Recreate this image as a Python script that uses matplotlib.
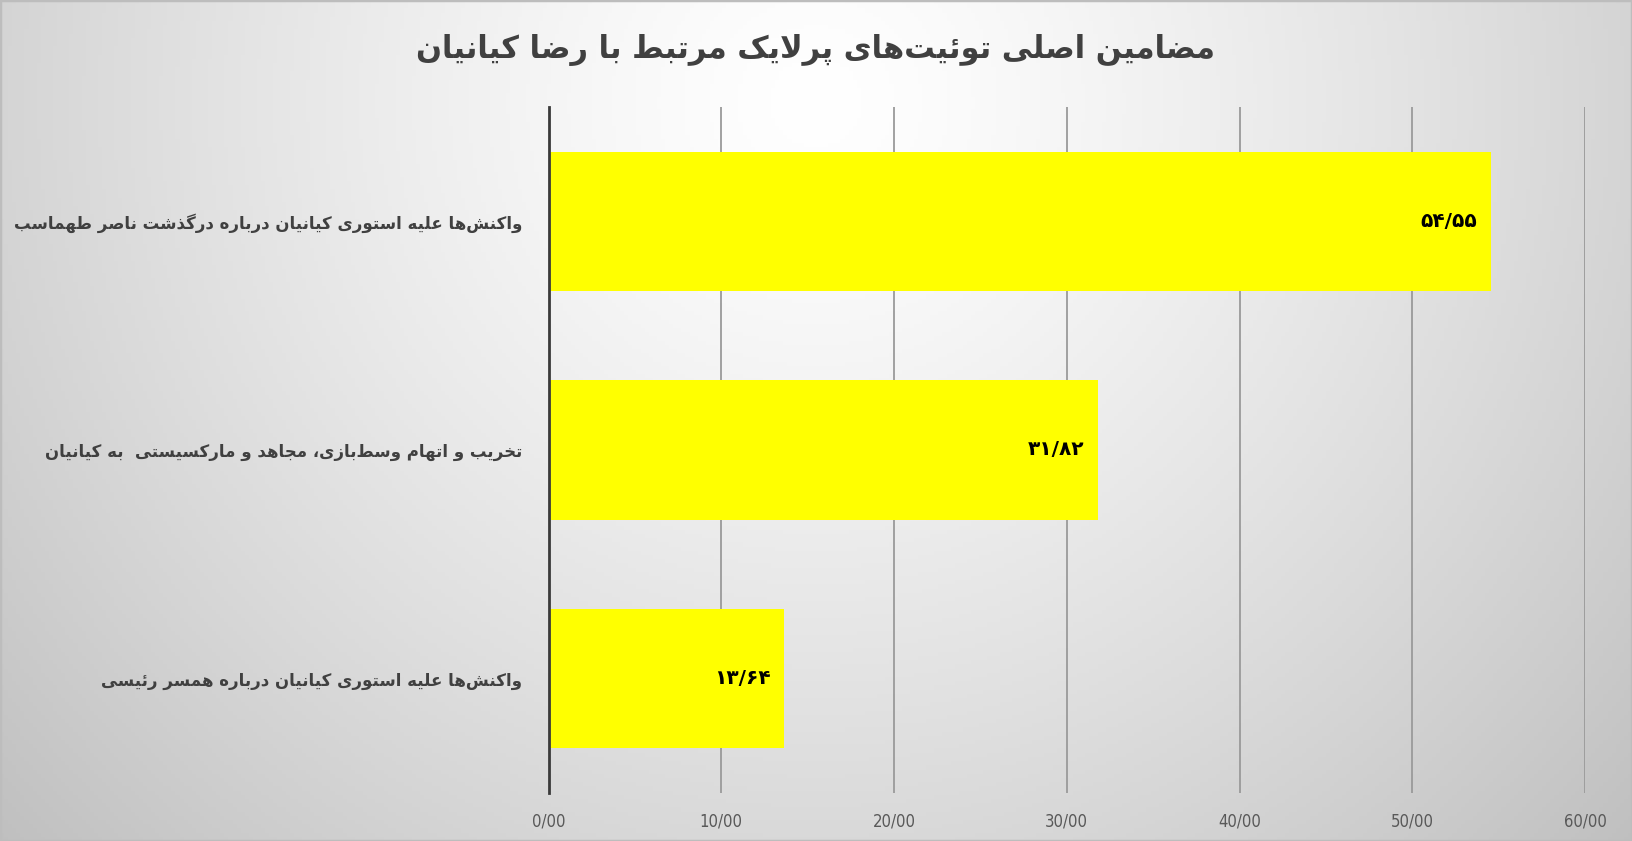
import numpy as np
import matplotlib
matplotlib.use("Agg")
import matplotlib.pyplot as plt

# data
title = "مضامین اصلی توئیت‌های پرلایک مرتبط با رضا کیانیان"
categories = [
    "واکنش‌ها علیه استوری کیانیان درباره درگذشت ناصر طهماسب",
    "تخریب و اتهام وسط‌بازی، مجاهد و مارکسیستی  به کیانیان",
    "واکنش‌ها علیه استوری کیانیان درباره همسر رئیسی",
]
values = [54.55, 31.82, 13.64]
xticks = [0, 10, 20, 30, 40, 50, 60]

# small arabic/persian shaper (iso, fin, ini, med); right-joining letters have no ini/med
FORMS = {
    "ا": ("\uFE8D", "\uFE8E", None, None),
    "ب": ("\uFE8F", "\uFE90", "\uFE91", "\uFE92"),
    "پ": ("\uFB56", "\uFB57", "\uFB58", "\uFB59"),
    "ت": ("\uFE95", "\uFE96", "\uFE97", "\uFE98"),
    "ج": ("\uFE9D", "\uFE9E", "\uFE9F", "\uFEA0"),
    "خ": ("\uFEA5", "\uFEA6", "\uFEA7", "\uFEA8"),
    "د": ("\uFEA9", "\uFEAA", None, None),
    "ذ": ("\uFEAB", "\uFEAC", None, None),
    "ر": ("\uFEAD", "\uFEAE", None, None),
    "ز": ("\uFEAF", "\uFEB0", None, None),
    "س": ("\uFEB1", "\uFEB2", "\uFEB3", "\uFEB4"),
    "ش": ("\uFEB5", "\uFEB6", "\uFEB7", "\uFEB8"),
    "ص": ("\uFEB9", "\uFEBA", "\uFEBB", "\uFEBC"),
    "ض": ("\uFEBD", "\uFEBE", "\uFEBF", "\uFEC0"),
    "ط": ("\uFEC1", "\uFEC2", "\uFEC3", "\uFEC4"),
    "ع": ("\uFEC9", "\uFECA", "\uFECB", "\uFECC"),
    "ک": ("\uFB8E", "\uFB8F", "\uFB90", "\uFB91"),
    "گ": ("\uFB92", "\uFB93", "\uFB94", "\uFB95"),
    "ل": ("\uFEDD", "\uFEDE", "\uFEDF", "\uFEE0"),
    "م": ("\uFEE1", "\uFEE2", "\uFEE3", "\uFEE4"),
    "ن": ("\uFEE5", "\uFEE6", "\uFEE7", "\uFEE8"),
    "ه": ("\uFEE9", "\uFEEA", "\uFEEB", "\uFEEC"),
    "و": ("\uFEED", "\uFEEE", None, None),
    "ی": ("\uFBFC", "\uFBFD", "\uFBFE", "\uFBFF"),
    "ئ": ("\uFE89", "\uFE8A", "\uFE8B", "\uFE8C"),
}


def dual(c):
    return c in FORMS and FORMS[c][2] is not None


def shape(text):
    out = []
    i = 0
    n = len(text)
    while i < n:
        c = text[i]
        prev_join = i > 0 and dual(text[i - 1])
        if c == "ل" and i + 1 < n and text[i + 1] == "ا":
            out.append("\uFEFC" if prev_join else "\uFEFB")
            i += 2
            continue
        if c in FORMS:
            iso, fin, ini, med = FORMS[c]
            next_join = dual(c) and i + 1 < n and text[i + 1] in FORMS
            if prev_join and next_join:
                out.append(med)
            elif prev_join:
                out.append(fin)
            elif next_join:
                out.append(ini)
            else:
                out.append(iso)
        elif c != "\u200c":
            out.append(c)
        i += 1
    return "".join(reversed(out))


def fa_num(v):
    s = f"{v:.2f}".replace(".", "/")
    return s.translate(str.maketrans("0123456789", "۰۱۲۳۴۵۶۷۸۹"))


fig = plt.figure(figsize=(16.32, 8.41), dpi=100)

# radial grey background
bg = fig.add_axes([0, 0, 1, 1], zorder=-10)
gx, gy = np.meshgrid(np.linspace(0, 1, 400), np.linspace(0, 1, 200))
r = np.sqrt(((gx - 0.5) / 0.55) ** 2 + ((gy - 0.12) / 1.05) ** 2)
g = np.clip(255 - 48 * r ** 1.3, 0, 255) / 255
bg.imshow(np.dstack([g, g, g]), aspect="auto", extent=[0, 1, 1, 0])
bg.set_xlim(0, 1)
bg.set_ylim(1, 0)
bg.axis("off")
fig.patches.append(plt.Rectangle((0, 0), 1, 1, transform=fig.transFigure,
                                 fill=False, edgecolor="#bdbdbd", linewidth=2.5))

ax = fig.add_axes([0.3361, 0.0571, 0.9712 - 0.3361, 0.8728 - 0.0571])
ax.set_facecolor("none")

y = np.arange(len(categories))
ax.barh(y, values, height=0.61, color="#ffff00", zorder=2)
ax.set_ylim(len(categories) - 0.5, -0.5)
ax.set_xlim(0, 60)

ax.set_xticks(xticks)
ax.set_xticklabels([f"{t}/00" for t in xticks], fontsize=12, color="#595959",
                   fontstretch="condensed")
ax.set_yticks(y)
ax.set_yticklabels([shape(c) for c in categories], fontsize=12,
                   fontweight="bold", color="#404040")
ax.tick_params(axis="both", length=0)
ax.tick_params(axis="x", pad=14)
ax.tick_params(axis="y", pad=19)

ax.grid(axis="x", color="#9a9a9a", linewidth=1.3, zorder=0)
ax.set_axisbelow(True)
for s in ["top", "right", "bottom"]:
    ax.spines[s].set_visible(False)
ax.spines["left"].set_color("#3a3a3a")
ax.spines["left"].set_linewidth(2)
ax.spines["left"].set_zorder(3)

for yi, v in zip(y, values):
    ax.annotate(fa_num(v), (v, yi), xytext=(-10, 0), textcoords="offset points",
                ha="right", va="center", fontsize=14.5, fontweight="bold",
                color="#000000", zorder=4)

fig.text(0.5, 0.94, shape(title), ha="center", va="center", fontsize=22,
         fontweight="bold", color="#404040")

fig.savefig("out.png", dpi=100)
